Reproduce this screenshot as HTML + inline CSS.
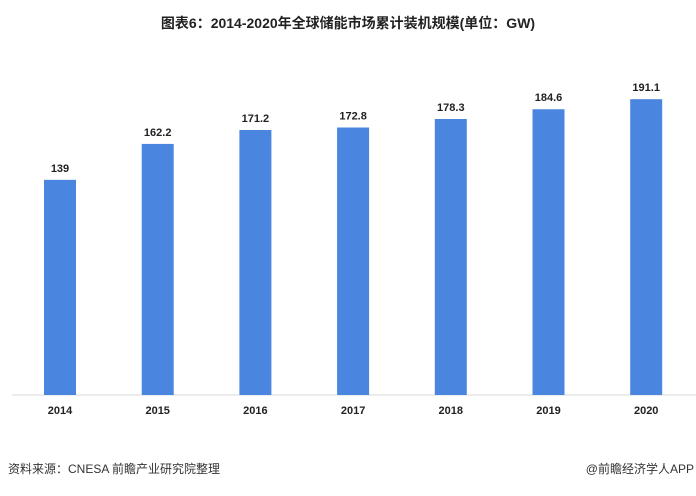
<!DOCTYPE html>
<html><head><meta charset="utf-8"><style>
body{margin:0;background:#fff;width:696px;height:491px;overflow:hidden;font-family:"Liberation Sans","Noto Sans CJK SC",sans-serif;}
</style></head><body>
<svg width="696" height="491">
<text x="348" y="28" text-anchor="middle" font-size="14" font-weight="bold" fill="#222">图表6：2014-2020年全球储能市场累计装机规模(单位：GW)</text>
<line x1="12" y1="395" x2="696" y2="395" stroke="#d9d9d9" stroke-width="1"/>
<g id="bars"></g>
<text x="8" y="473" font-size="12" fill="#333">资料来源：CNESA 前瞻产业研究院整理</text>
<text x="694" y="473" text-anchor="end" font-size="12" fill="#333">@前瞻经济学人APP</text>
</svg>
<script>
const categories=["2014","2015","2016","2017","2018","2019","2020"];
const values=[139,162.2,171.2,172.8,178.3,184.6,191.1];
const labels=["139","162.2","171.2","172.8","178.3","184.6","191.1"];
const g=document.getElementById('bars');
const ns="http://www.w3.org/2000/svg";
function xc(i){return 60+i*97.7;}
function y(v){return 395-v*1.548;}
categories.forEach((c,i)=>{
 const r=document.createElementNS(ns,'rect');
 
 
 r.setAttribute('x',xc(i)-16);r.setAttribute('width',32);
 r.setAttribute('y',y(values[i]));r.setAttribute('height',395-y(values[i]));
 r.setAttribute('fill','#4a86e0');g.appendChild(r);
 const t=document.createElementNS(ns,'text');
 
 
 t.setAttribute('x',xc(i));t.setAttribute('y',y(values[i])-8);
 t.setAttribute('text-anchor','middle');t.setAttribute('font-size','11');t.setAttribute('font-weight','bold');t.setAttribute('fill','#222');
 t.textContent=labels[i];g.appendChild(t);
 const a=document.createElementNS(ns,'text');
 
 
 a.setAttribute('x',xc(i));a.setAttribute('y',414);
 a.setAttribute('text-anchor','middle');a.setAttribute('font-size','11');a.setAttribute('font-weight','bold');a.setAttribute('fill','#222');
 a.textContent=c;g.appendChild(a);
});
</script>
</body></html>
